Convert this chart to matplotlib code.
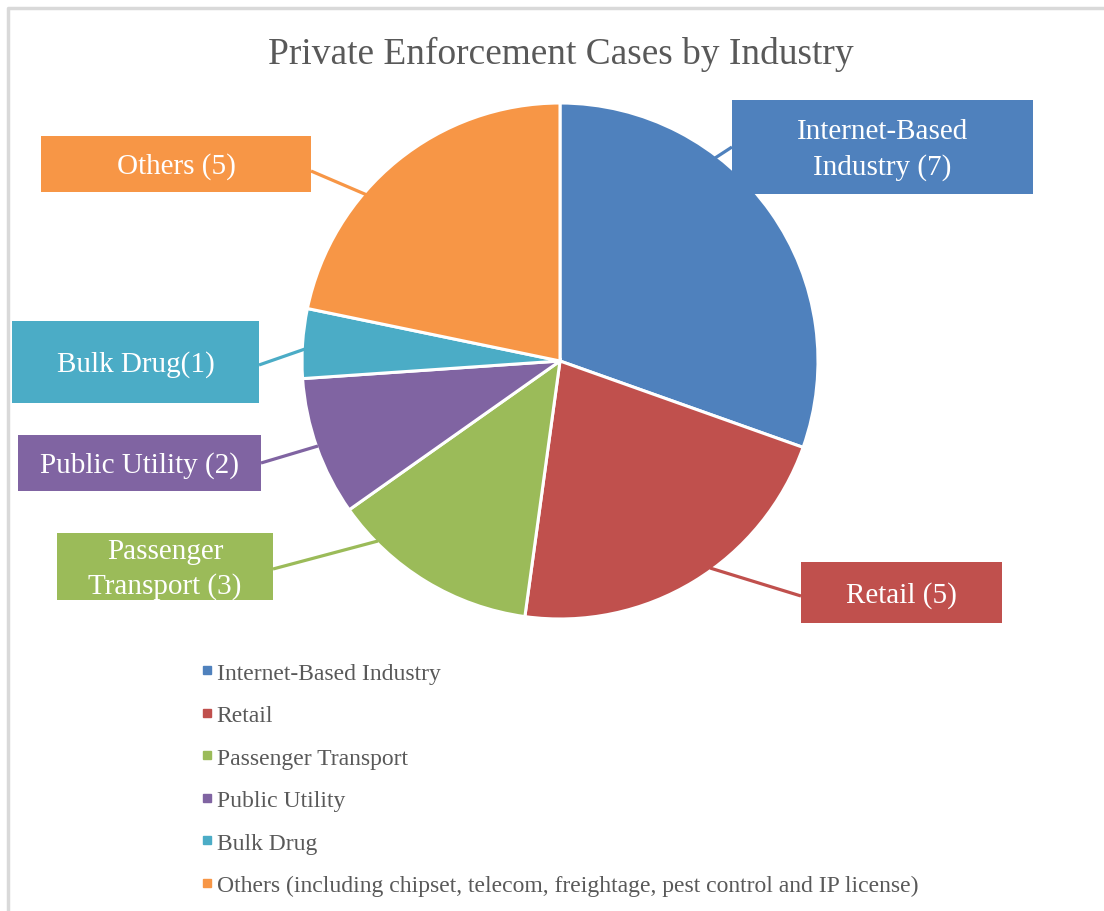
import matplotlib.pyplot as plt
from matplotlib.patches import Rectangle
from matplotlib.lines import Line2D

plt.rcParams["font.family"] = ["Liberation Serif", "DejaVu Serif"]

industries = [
    "Internet-Based Industry",
    "Retail",
    "Passenger Transport",
    "Public Utility",
    "Bulk Drug",
    "Others (including chipset, telecom, freightage, pest control and IP license)",
]
cases = [7, 5, 3, 2, 1, 5]
slice_labels = [
    "Internet-Based\nIndustry (7)",
    "Retail (5)",
    "Passenger\nTransport (3)",
    "Public Utility (2)",
    "Bulk Drug(1)",
    "Others (5)",
]
colors = ["#4F81BD", "#C0504D", "#9BBB59", "#8064A2", "#4BACC6", "#F79646"]

# label boxes in pixel coords (x0, y0_top, x1, y1_bottom) and leader lines
boxes = [
    (732, 101, 1033, 195),
    (801, 563, 1002, 624),
    (57, 534, 273, 601),
    (18, 436, 261, 492),
    (12, 322, 259, 404),
    (41, 137, 311, 193),
]
leaders = [
    ((732, 148), (712, 161)),
    ((801, 597), (710, 569)),
    ((273, 570), (378, 542)),
    ((261, 464), (318, 447)),
    ((259, 366), (305, 350)),
    ((311, 172), (367, 196)),
]

W, H = 1104, 912
fig = plt.figure(figsize=(W / 100, H / 100), dpi=100)

# pie drawn in its own axes sized to match pixel layout
cx, cy, r = 560, 362, 258
pax = fig.add_axes([(cx - r) / W, 1 - (cy + r) / H, 2 * r / W, 2 * r / H])
pax.pie(
    cases,
    colors=colors,
    startangle=90,
    counterclock=False,
    wedgeprops=dict(edgecolor="white", linewidth=2.2),
)
pax.set_xlim(-1, 1)
pax.set_ylim(-1, 1)
pax.set_aspect("equal")
pax.axis("off")

# leader lines and label boxes on top
ax2 = fig.add_axes([0, 0, 1, 1], zorder=5)
ax2.set_xlim(0, W)
ax2.set_ylim(H, 0)
ax2.axis("off")
for lab, c, (x0, y0, x1, y1), (p, q) in zip(slice_labels, colors, boxes, leaders):
    ax2.plot([p[0], q[0]], [p[1], q[1]], color=c, lw=2.3, solid_capstyle="butt")
    ax2.add_patch(Rectangle((x0, y0), x1 - x0, y1 - y0, facecolor=c, edgecolor="none"))
    ax2.text((x0 + x1) / 2, (y0 + y1) / 2 + 2, lab, color="white", fontsize=21,
             ha="center", va="center", linespacing=1.42)

# chart border (left and top only visible)
ax2.plot([8, 8, W], [H, 9, 9], color="#D9D9D9", lw=2.5)

ax2.text(561, 54, "Private Enforcement Cases by Industry", fontsize=26.9,
         color="#595959", ha="center", va="center")

handles = [Line2D([], [], marker="s", linestyle="", color=c, markersize=6) for c in colors]
ax2.legend(handles, industries, loc="upper left", bbox_to_anchor=(202 / W, 1 - 663 / H),
           bbox_transform=fig.transFigure, frameon=False, fontsize=17,
           labelcolor="#595959", handlelength=0.4, handletextpad=0.22,
           labelspacing=0.89, borderpad=0, borderaxespad=0)

fig.savefig("out.png", dpi=100)
